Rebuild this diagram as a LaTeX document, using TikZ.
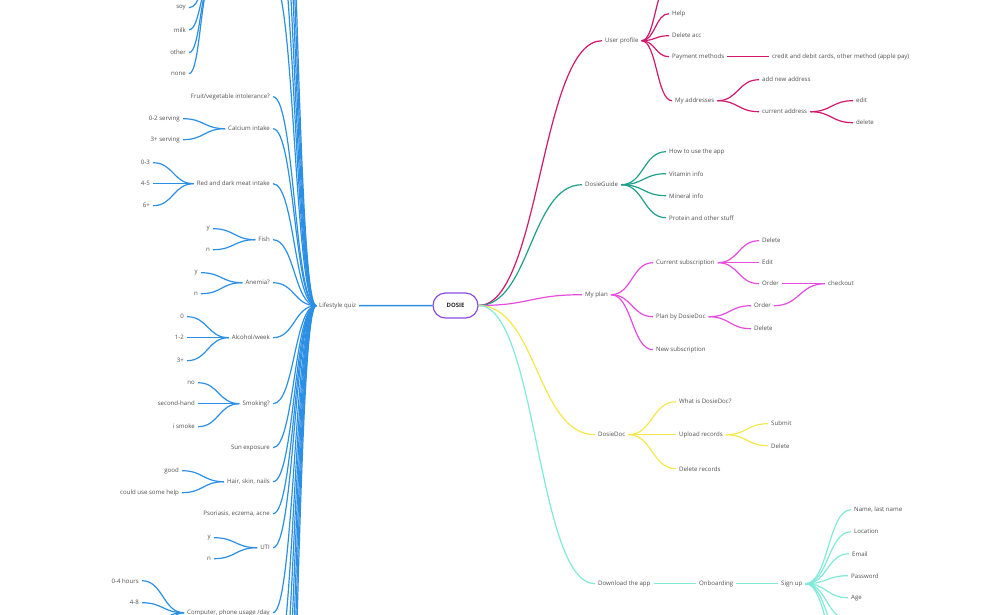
\documentclass[tikz,border=0pt]{standalone}
\usepackage{fontspec}
\setmainfont{Open Sans}
\usetikzlibrary{calc}
\definecolor{cquiz}{HTML}{2B8FE6}
\definecolor{cuser}{HTML}{D1186E}
\definecolor{cguide}{HTML}{1FA08A}
\definecolor{cplan}{HTML}{E64CDF}
\definecolor{cdoc}{HTML}{F5E84A}
\definecolor{capp}{HTML}{82EAD9}
\definecolor{cdosie}{HTML}{8A4DE6}
\definecolor{ctext}{HTML}{4F4F4F}
\begin{document}
\begin{tikzpicture}[x=1pt,y=-1pt,
  txt/.style={font=\fontsize{6.1}{7}\selectfont, text=ctext, inner xsep=3pt, inner ysep=1pt, yshift=-0.7pt},
  rt/.style={txt, anchor=west},
  lt/.style={txt, anchor=east},
  mm/.style={line width=1.2pt, to path={let \p1=(\tikztostart), \p2=(\tikztotarget) in .. controls ({(\x1+\x2)/2},\y1) and ({(\x1+\x2)/2},\y2) .. (\tikztotarget)}},
  straight/.style={line width=1.5pt},
  equiz/.style={mm, draw=cquiz},
  euser/.style={mm, draw=cuser},
  eguide/.style={mm, draw=cguide},
  eplan/.style={mm, draw=cplan},
  edoc/.style={mm, draw=cdoc},
  eapp/.style={mm, draw=capp},
  rootbox/.style={draw=cdosie, line width=1.2pt, rounded corners=12.5pt, minimum width=45pt, minimum height=25pt, inner sep=0pt, font=\bfseries\fontsize{6}{7}\selectfont, text=black!85}
]
\useasboundingbox (0,0) rectangle (981,614);
\fill[white] (0,0) rectangle (981,614);

% ---------- root ----------
\node[rootbox] (dosie) at (455.5,305.5) {DOSIE};

% ---------- Lifestyle quiz (left) ----------
\node[rt] (quiz) at (316,305) {Lifestyle quiz};
\node[lt] (fruit) at (273,96) {Fruit/vegetable intolerance?};
\node[lt] (calc) at (273,128) {Calcium intake};
\node[lt] (meat) at (273,183) {Red and dark meat intake};
\node[lt] (fish) at (273,239) {Fish};
\node[lt] (anem) at (273,282) {Anemia?};
\node[lt] (alc) at (273,337) {Alcohol/week};
\node[lt] (smk) at (273,403) {Smoking?};
\node[lt] (sun) at (273,447) {Sun exposure};
\node[lt] (hair) at (273,481) {Hair, skin, nails};
\node[lt] (pso) at (273,513) {Psoriasis, eczema, acne};
\node[lt] (uti) at (273,547) {UTI};
\node[lt] (comp) at (273,612) {Computer, phone usage /day};

\coordinate (qa) at (273,-20);
\coordinate (qb) at (273,-90);
\coordinate (qc) at (273,-160);
\coordinate (qd) at (273,-240);
\coordinate (qe) at (273,-330);
\coordinate (qf) at (273,-430);
\coordinate (qg) at (273,680);
\coordinate (qh) at (273,750);
\coordinate (qi) at (273,830);
\coordinate (qj) at (273,920);
\coordinate (qk) at (273,1020);
\coordinate (ql) at (273,1130);

\coordinate (allgw) at (212,-20);
\node[lt] (soy) at (189,7) {soy};
\node[lt] (milk) at (189,29) {milk};
\node[lt] (other) at (189,52) {other};
\node[lt] (none) at (189,73) {none};

\node[lt] (c02) at (183,118) {0-2 serving};
\node[lt] (c3) at (183,139) {3+ serving};
\node[lt] (m03) at (153,162) {0-3};
\node[lt] (m45) at (153,183) {4-5};
\node[lt] (m6) at (153,205) {6+};
\node[lt] (fy) at (213,228) {y};
\node[lt] (fn) at (213,249) {n};
\node[lt] (ay) at (201,272) {y};
\node[lt] (an) at (201,293) {n};
\node[lt] (a0) at (187,316) {0};
\node[lt] (a12) at (187,337) {1-2};
\node[lt] (a3) at (187,360) {3+};
\node[lt] (sno) at (198,382) {no};
\node[lt] (ssh) at (198,403) {second-hand};
\node[lt] (ssm) at (198,426) {i smoke};
\node[lt] (hg) at (182,470) {good};
\node[lt] (hc) at (182,492) {could use some help};
\node[lt] (uy) at (214,537) {y};
\node[lt] (un) at (214,558) {n};
\node[lt] (p04) at (142,580) {0-4 hours};
\node[lt] (p48) at (142,602) {4-8};
\coordinate (p8a) at (145,624);
\coordinate (p8b) at (145,646);

\draw[cquiz, straight] (quiz.east) -- (dosie.west);
\foreach \c in {fruit,calc,meat,fish,anem,alc,smk,sun,hair,pso,uti,comp}
  \draw[equiz] (quiz.west) to (\c.east);
\foreach \c in {qa,qb,qc,qd,qe,qf,qg,qh,qi,qj,qk,ql}
  \draw[equiz] (quiz.west) to (\c);
\foreach \c in {soy,milk,other,none}
  \draw[equiz] (allgw) to (\c.east);
\foreach \c in {c02,c3} \draw[equiz] (calc.west) to (\c.east);
\foreach \c in {m03,m45,m6} \draw[equiz] (meat.west) to (\c.east);
\foreach \c in {fy,fn} \draw[equiz] (fish.west) to (\c.east);
\foreach \c in {ay,an} \draw[equiz] (anem.west) to (\c.east);
\foreach \c in {a0,a12,a3} \draw[equiz] (alc.west) to (\c.east);
\foreach \c in {sno,ssh,ssm} \draw[equiz] (smk.west) to (\c.east);
\foreach \c in {hg,hc} \draw[equiz] (hair.west) to (\c.east);
\foreach \c in {uy,un} \draw[equiz] (uti.west) to (\c.east);
\foreach \c in {p04,p48} \draw[equiz] (comp.west) to (\c.east);
\foreach \c in {p8a,p8b} \draw[equiz] (comp.west) to (\c);

% ---------- User profile ----------
\node[rt] (up) at (602,40) {User profile};
\coordinate (upx) at (669,-16);
\node[rt] (help) at (669,13) {Help};
\node[rt] (dacc) at (669,35) {Delete acc};
\node[rt] (pay) at (669,56) {Payment methods};
\node[rt] (card) at (769,56) {credit and debit cards, other method (apple pay)};
\node[rt] (addr) at (672,100) {My addresses};
\node[rt] (newaddr) at (759,79) {add new address};
\node[rt] (curaddr) at (759,111) {current address};
\node[rt] (edit) at (853,100) {edit};
\node[rt] (delad) at (853,122) {delete};
\draw[euser] (dosie.east) to (up.west);
\draw[euser] (up.east) to (upx);
\foreach \c in {help,dacc,pay,addr} \draw[euser] (up.east) to (\c.west);
\draw[cuser, straight] (pay.east) -- (card.west);
\foreach \c in {newaddr,curaddr} \draw[euser] (addr.east) to (\c.west);
\foreach \c in {edit,delad} \draw[euser] (curaddr.east) to (\c.west);

% ---------- DosieGuide ----------
\node[rt] (guide) at (582,184) {DosieGuide};
\node[rt] (howto) at (666,151) {How to use the app};
\node[rt] (vit) at (666,173) {Vitamin info};
\node[rt] (min) at (666,195) {Mineral info};
\node[rt] (prot) at (666,217) {Protein and other stuff};
\draw[eguide] (dosie.east) to (guide.west);
\foreach \c in {howto,vit,min,prot} \draw[eguide] (guide.east) to (\c.west);

% ---------- My plan ----------
\node[rt] (plan) at (582,294) {My plan};
\node[rt] (cursub) at (653,262) {Current subscription};
\node[rt] (pbd) at (653,316) {Plan by DosieDoc};
\node[rt] (newsub) at (653,349) {New subscription};
\node[rt] (csdel) at (759,240) {Delete};
\node[rt] (csedit) at (759,262) {Edit};
\node[rt] (csord) at (759,283) {Order};
\node[rt] (pbord) at (751,305) {Order};
\node[rt] (pbdel) at (751,328) {Delete};
\node[rt] (chk) at (825,283) {checkout};
\draw[eplan] (dosie.east) to (plan.west);
\foreach \c in {cursub,pbd,newsub} \draw[eplan] (plan.east) to (\c.west);
\foreach \c in {csdel,csedit,csord} \draw[eplan] (cursub.east) to (\c.west);
\foreach \c in {pbord,pbdel} \draw[eplan] (pbd.east) to (\c.west);
\draw[eplan] (csord.east) to (chk.west);
\draw[eplan] (pbord.east) to (chk.west);

% ---------- DosieDoc ----------
\node[rt] (doc) at (595,434) {DosieDoc};
\node[rt] (whatis) at (676,401) {What is DosieDoc?};
\node[rt] (upl) at (676,434) {Upload records};
\node[rt] (delrec) at (676,468) {Delete records};
\node[rt] (sub) at (768,423) {Submit};
\node[rt] (updel) at (768,445) {Delete};
\draw[edoc] (dosie.east) to (doc.west);
\foreach \c in {whatis,upl,delrec} \draw[edoc] (doc.east) to (\c.west);
\foreach \c in {sub,updel} \draw[edoc] (upl.east) to (\c.west);

% ---------- Download the app ----------
\node[rt] (dl) at (595,583) {Download the app};
\node[rt] (onb) at (696,583) {Onboarding};
\node[rt] (sgn) at (778,583) {Sign up};
\node[rt] (name) at (851,509) {Name, last name};
\node[rt] (loc) at (851,531) {Location};
\node[rt] (email) at (849,553) {Email};
\node[rt] (pw) at (848,575) {Password};
\node[rt] (age) at (848,597) {Age};
\coordinate (sga) at (848,619);
\coordinate (sgb) at (848,641);
\coordinate (sgc) at (848,663);
\draw[eapp] (dosie.east) to (dl.west);
\draw[capp, straight] (dl.east) -- (onb.west);
\draw[capp, straight] (onb.east) -- (sgn.west);
\foreach \c in {name,loc,email,pw,age} \draw[eapp] (sgn.east) to (\c.west);
\foreach \c in {sga,sgb,sgc} \draw[eapp] (sgn.east) to (\c);
\end{tikzpicture}
\end{document}
